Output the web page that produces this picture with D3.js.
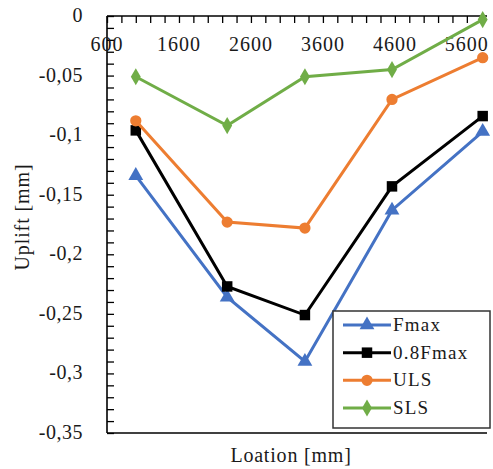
<!DOCTYPE html>
<html>
<head>
<meta charset="utf-8">
<script src="https://cdn.jsdelivr.net/npm/d3@7"></script>
<style>
  body { margin: 0; background: #fff; }
  text { font-family: "Liberation Serif", "Times New Roman", serif; fill: #1a1a1a; }
</style>
</head>
<body>
<svg id="chart"></svg>
<script>
// data
const locations = [1000, 2270, 3350, 4560, 5820];
const fmax = [-0.134, -0.236, -0.290, -0.163, -0.097];
const fmax08 = [-0.096, -0.227, -0.251, -0.143, -0.084];
const uls = [-0.088, -0.173, -0.178, -0.070, -0.035];
const sls = [-0.051, -0.092, -0.051, -0.045, -0.003];
const seriesNames = ['Fmax', '0.8Fmax', 'ULS', 'SLS'];
const xTickValues = [600, 1600, 2600, 3600, 4600, 5600];
const xTickLabels = ['600', '1600', '2600', '3600', '4600', '5600'];
const yTickValues = [0, -0.05, -0.1, -0.15, -0.2, -0.25, -0.3, -0.35];
const yTickLabels = ['0', '-0,05', '-0,1', '-0,15', '-0,2', '-0,25', '-0,3', '-0,35'];

// colors
const colors = ['#4472c4', '#000000', '#ed7d31', '#70ad47'];
const shapes = [d3.symbolTriangle, d3.symbolSquare, d3.symbolCircle, d3.symbolDiamond];
const shapeSizes = [95, 110, 100, 85];

const width = 493;
const height = 469;

const x = d3.scaleLinear().domain([600, 5880]).range([107, 487]);
const y = d3.scaleLinear().domain([-0.35, 0]).range([433, 16]);

const svg = d3.select('#chart')
    .attr('width', width)
    .attr('height', height);

// minor + major ticks, pointing inward
svg.append('g')
    .attr('transform', `translate(0,${y(0)})`)
    .call(d3.axisTop(x).tickValues(d3.range(600, 5881, 200)).tickSize(-7).tickFormat(''))
    .call(g => g.select('.domain').attr('stroke-width', 1.6).attr('d', `M${x(600)},0H${x(5880)}`))
    .call(g => g.selectAll('.tick line').attr('stroke-width', 1.3));

svg.append('g')
    .attr('transform', `translate(${x(600)},0)`)
    .call(d3.axisLeft(y).tickValues(d3.range(0, 36).map(i => -i / 100)).tickSize(-7).tickFormat(''))
    .call(g => g.select('.domain').attr('stroke-width', 1.6).attr('d', `M0,${y(-0.35)}V${y(0)}`))
    .call(g => g.selectAll('.tick line').attr('stroke-width', 1.3));

// bottom border
svg.append('line')
    .attr('x1', x(600)).attr('x2', x(5880))
    .attr('y1', y(-0.35)).attr('y2', y(-0.35))
    .attr('stroke', '#000').attr('stroke-width', 1.6);

// tick labels
svg.append('g').selectAll('text')
    .data(xTickValues)
    .enter()
    .append('text')
    .attr('x', d => x(d))
    .attr('y', 51)
    .attr('text-anchor', 'middle')
    .attr('font-size', 20)
    .attr('letter-spacing', 1)
    .text((d, i) => xTickLabels[i]);

svg.append('g').selectAll('text')
    .data(yTickValues)
    .enter()
    .append('text')
    .attr('x', 83)
    .attr('y', d => y(d) + 6)
    .attr('text-anchor', 'end')
    .attr('font-size', 20)
    .attr('letter-spacing', 0.5)
    .text((d, i) => yTickLabels[i]);

// axis titles
svg.append('text')
    .attr('x', 291)
    .attr('y', 462)
    .attr('text-anchor', 'middle')
    .attr('font-size', 20)
    .attr('letter-spacing', 0.8)
    .text('Loation [mm]');

svg.append('text')
    .attr('transform', 'translate(29,217) rotate(-90)')
    .attr('text-anchor', 'middle')
    .attr('font-size', 20)
    .attr('letter-spacing', 0.9)
    .text('Uplift [mm]');

// series
const allSeries = [fmax, fmax08, uls, sls];
const line = d3.line().x((d, i) => x(locations[i])).y(d => y(d));

allSeries.forEach((vals, s) => {
    const g = svg.append('g');
    g.append('path')
        .attr('d', line(vals))
        .attr('fill', 'none')
        .attr('stroke', colors[s])
        .attr('stroke-width', 3);
    g.selectAll('path.pt')
        .data(vals)
        .enter()
        .append('path')
        .attr('class', 'pt')
        .attr('transform', (d, i) => `translate(${x(locations[i])},${y(d)})`)
        .attr('d', d3.symbol().type(shapes[s]).size(shapeSizes[s]))
        .attr('fill', colors[s]);
});

// legend
const legend = svg.append('g');
legend.append('rect')
    .attr('x', 333).attr('y', 311)
    .attr('width', 157).attr('height', 117)
    .attr('fill', '#fff')
    .attr('stroke', '#333')
    .attr('stroke-width', 1.5);

const legendY = d3.scalePoint().domain(seriesNames).range([325, 408]);
seriesNames.forEach((name, s) => {
    const ly = legendY(name);
    legend.append('line')
        .attr('x1', 343).attr('x2', 391)
        .attr('y1', ly).attr('y2', ly)
        .attr('stroke', colors[s])
        .attr('stroke-width', 3);
    legend.append('path')
        .attr('transform', `translate(367,${ly})`)
        .attr('d', d3.symbol().type(shapes[s]).size(shapeSizes[s]))
        .attr('fill', colors[s]);
    legend.append('text')
        .attr('x', 393)
        .attr('y', ly + 6)
        .attr('font-size', 19)
        .attr('letter-spacing', 1.2)
        .text(name);
});
</script>
</body>
</html>
